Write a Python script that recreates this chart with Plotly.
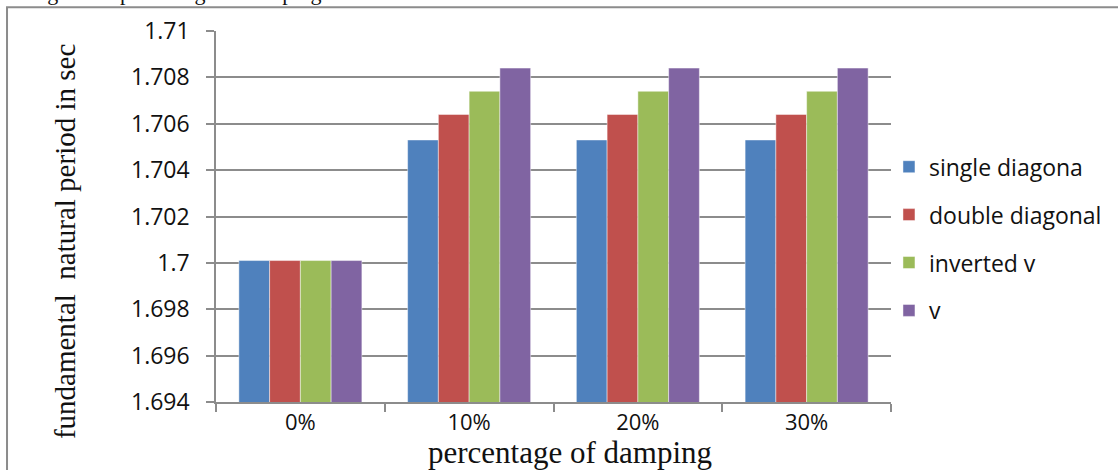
import plotly.graph_objects as go

# Damping levels (x categories)
damping = ["0%", "10%", "20%", "30%"]

# Fundamental natural period (s) for each bracing type
single_diagonal = [1.7001, 1.7053, 1.7053, 1.7053]
double_diagonal = [1.7001, 1.7064, 1.7064, 1.7064]
inverted_v = [1.7001, 1.7074, 1.7074, 1.7074]
v_bracing = [1.7001, 1.7084, 1.7084, 1.7084]

series_names = ["single diagona", "double diagonal", "inverted v", "v"]
series_values = [single_diagonal, double_diagonal, inverted_v, v_bracing]
colors = ["#4F81BD", "#C0504D", "#9BBB59", "#8064A2"]

y_ticks = [1.694, 1.696, 1.698, 1.7, 1.702, 1.704, 1.706, 1.708, 1.71]
y_ticktext = ["1.694", "1.696", "1.698", "1.7", "1.702", "1.704", "1.706", "1.708", "1.71"]

sans = "Open Sans"
serif = "Liberation Serif, Times New Roman, serif"
ink = "#111"

fig = go.Figure()
for i, (name, vals, col) in enumerate(zip(series_names, series_values, colors)):
    fig.add_trace(go.Bar(
        x=damping, y=vals, name=name,
        marker=dict(color=col, line=dict(color="rgba(255,255,255,0.45)", width=1)),
        legendgroup=f"g{i}",
    ))

grid_col = "#8c8c8c"
fig.update_layout(
    width=1118, height=470,
    margin=dict(l=216, r=227, t=31, b=68, autoexpand=False),
    paper_bgcolor="white", plot_bgcolor="white",
    barmode="group", bargap=0.271, bargroupgap=0,
    showlegend=True,
    legend=dict(
        x=0.997, xanchor="left", y=0.692, yanchor="top",
        font=dict(family=sans, size=23, color=ink),
        tracegroupgap=15, bgcolor="rgba(0,0,0,0)",
        itemclick=False,
    ),
    xaxis=dict(
        type="category",
        showgrid=False, showline=True, linecolor=grid_col, linewidth=1.5,
        ticks="outside", tickson="boundaries", ticklen=8, tickcolor=grid_col, tickwidth=1.5,
        tickfont=dict(family=sans, size=22, color=ink),
    ),
    yaxis=dict(
        range=[1.694, 1.71], tickvals=y_ticks, ticktext=y_ticktext,
        showgrid=True, gridcolor=grid_col, gridwidth=1.5,
        showline=True, linecolor=grid_col, linewidth=1.5,
        ticks="outside", ticklen=8, tickcolor=grid_col, tickwidth=1.5,
        ticklabelstandoff=12,
        tickfont=dict(family=sans, size=23, color=ink),
        zeroline=False,
    ),
)

# Axis titles
fig.add_annotation(text="percentage of damping", xref="paper", yref="paper",
                   x=0.524, y=-0.135, xanchor="center", yanchor="middle",
                   showarrow=False, font=dict(family=serif, size=31, color=ink))
fig.add_annotation(text="fundamental  natural period in sec", xref="paper", yref="paper",
                   x=-0.2237, y=0.431, xanchor="center", yanchor="middle", textangle=-90,
                   showarrow=False, font=dict(family=serif, size=29, color=ink))

# Outer frame around the chart
fig.add_shape(type="rect", xref="paper", yref="paper",
              x0=-0.3096, x1=1.6, y0=-0.6, y1=1.0638,
              line=dict(color=grid_col, width=2), fillcolor="rgba(0,0,0,0)", layer="below")

# Surrounding sentence from the page, clipped at the top edge
fig.add_annotation(text="easing as the percentage of damping increases.",
                   xref="paper", yref="paper", x=-0.32, xanchor="left",
                   y=1.066, yanchor="bottom", showarrow=False,
                   font=dict(family=serif, size=22, color=ink))

fig.write_html("out.html")
